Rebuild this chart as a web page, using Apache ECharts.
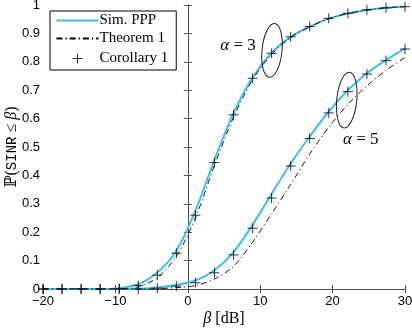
<!DOCTYPE html>
<html>
<head>
<meta charset="utf-8">
<script src="https://cdn.jsdelivr.net/npm/echarts@6/dist/echarts.min.js"></script>
<style>
  html, body { margin: 0; padding: 0; background: #fff; }
  #chart { width: 412px; height: 328px; }
</style>
</head>
<body>
<div id="chart"></div>
<script>
// beta grid [dB]
const beta = [-20, -17.37, -14.74, -12.11, -9.47, -6.84, -4.21, -1.58, 1.05, 3.68,
  6.32, 8.95, 11.58, 14.21, 16.84, 19.47, 22.11, 24.74, 27.37, 30];

// alpha = 3
const simA3 = [0, 0, 0, 0, 0.003, 0.017, 0.058, 0.135, 0.275, 0.455,
  0.62, 0.745, 0.832, 0.888, 0.924, 0.952, 0.97, 0.982, 0.99, 0.994];
const thmA3 = [0, 0, 0, 0, 0, 0.008, 0.04, 0.115, 0.25, 0.435,
  0.605, 0.737, 0.826, 0.886, 0.923, 0.952, 0.97, 0.982, 0.99, 0.994];
const corA3 = [0, 0, 0, 0, 0.001, 0.012, 0.049, 0.126, 0.26, 0.445,
  0.613, 0.742, 0.83, 0.888, 0.924, 0.953, 0.971, 0.983, 0.99, 0.994];

// alpha = 5
const simA5 = [0, 0, 0, 0, 0, 0.001, 0.005, 0.014, 0.03, 0.066,
  0.13, 0.226, 0.335, 0.442, 0.537, 0.625, 0.7, 0.76, 0.806, 0.846];
const thmA5 = [0, 0, 0, 0, 0, 0, 0.001, 0.005, 0.012, 0.035,
  0.08, 0.165, 0.265, 0.368, 0.475, 0.57, 0.65, 0.715, 0.77, 0.815];
const corA5 = [0, 0, 0, 0, 0, 0, 0.003, 0.01, 0.022, 0.057,
  0.12, 0.214, 0.32, 0.433, 0.53, 0.62, 0.695, 0.757, 0.804, 0.845];

const xTicks = [-20, -10, 0, 10, 20, 30];

const pairs = ys => beta.map((b, i) => [b, ys[i]]);

const CYAN = '#3cbff0';
const serif = '"Liberation Serif", "DejaVu Serif", serif';
const sans = '"Liberation Sans", Arial, sans-serif';
const plus = 'path://M5,0L5,10M0,5L10,5';
const plusIcon = 'path://M0,0M42,0M42,14M0,14M16,7L26,7M21,2L21,12';

const chart = echarts.init(document.getElementById('chart'));

const axisLine = { show: true, lineStyle: { color: '#4d4d4d', width: 1 } };
const axisTick = { show: true, inside: true, length: 4, lineStyle: { color: '#4d4d4d' } };

function simLine(name, ys) {
  return {
    name: name, type: 'line', data: pairs(ys), smooth: 0.3, symbol: 'none',
    lineStyle: { color: CYAN, width: 2 }, itemStyle: { color: CYAN }, z: 2
  };
}
function thmLine(name, ys) {
  return {
    name: name, type: 'line', data: pairs(ys), smooth: 0.3, symbol: 'none',
    lineStyle: { color: '#000', width: 0.9, type: [6, 3, 1.2, 3] }, itemStyle: { color: '#000' }, z: 3
  };
}
function corPts(name, ys) {
  return {
    name: name, type: 'scatter', data: pairs(ys), symbol: plus, symbolSize: 10,
    itemStyle: { color: 'none', borderColor: '#000', borderWidth: 1 }, z: 4
  };
}

let option = {
  animation: false,
  backgroundColor: '#fff',
  grid: { left: 43, right: 7, top: 5, bottom: 39, outerBoundsMode: 'none', containLabel: false },
  legend: {
    orient: 'vertical', left: 50, top: 11,
    itemWidth: 42, itemHeight: 14, itemGap: 3,
    padding: [2, 8, 2, 4],
    borderColor: '#000', borderWidth: 1, backgroundColor: '#fff',
    textStyle: { fontFamily: serif, fontSize: 15, color: '#000', padding: [0, 0, 0, -4] },
    data: [
      { name: 'Sim. PPP', itemStyle: { opacity: 0 } },
      { name: 'Theorem 1', itemStyle: { opacity: 0 } },
      { name: 'Corollary 1', icon: plusIcon,
        itemStyle: { color: 'none', borderColor: '#000', borderWidth: 1 } }
    ]
  },
  xAxis: [
    {
      type: 'value', min: -20, max: 30, interval: 10, position: 'bottom',
      axisLine: axisLine, axisTick: axisTick, splitLine: { show: false },
      axisLabel: {
        margin: 6, color: '#000', fontFamily: sans, fontSize: 13,
        formatter: v => (xTicks.indexOf(v) >= 0 ? String(v).replace('-', '\u2212') : '')
      },
      name: '{b|β} [dB]', nameLocation: 'middle', nameGap: 22, nameMoveOverlap: false,
      nameTextStyle: {
        fontFamily: serif, fontSize: 16, color: '#000',
        rich: { b: { fontFamily: serif, fontStyle: 'italic', fontSize: 16, color: '#000' } }
      }
    },
    {
      type: 'value', min: -20, max: 30, interval: 10, position: 'top',
      axisLine: axisLine, axisTick: axisTick, axisLabel: { show: false }, splitLine: { show: false }
    }
  ],
  yAxis: [
    {
      type: 'value', min: 0, max: 1, interval: 0.1, position: 'left',
      axisLine: axisLine, axisTick: axisTick, splitLine: { show: false },
      axisLabel: {
        margin: 3, color: '#000', fontFamily: sans, fontSize: 13,
        formatter: v => (v === 0 ? '0' : v === 1 ? '1' : v.toFixed(1))
      },
      name: '{p|ℙ(}{m|SINR}{p| ≤ }{b|β}{p|)}', nameLocation: 'middle', nameGap: 23,
      nameRotate: 90, nameMoveOverlap: false,
      nameTextStyle: {
        color: '#000',
        rich: {
          p: { fontFamily: serif, fontSize: 16, color: '#000' },
          m: { fontFamily: '"Liberation Mono", "DejaVu Sans Mono", monospace', fontSize: 14, color: '#000' },
          b: { fontFamily: serif, fontStyle: 'italic', fontSize: 16, color: '#000' }
        }
      }
    },
    {
      type: 'value', min: 0, max: 1, interval: 0.1, position: 'right',
      axisLine: axisLine, axisTick: axisTick, axisLabel: { show: false }, splitLine: { show: false }
    }
  ],
  series: [
    simLine('Sim. PPP', simA3),
    simLine('Sim. PPP', simA5),
    thmLine('Theorem 1', thmA3),
    thmLine('Theorem 1', thmA5),
    corPts('Corollary 1', corA3),
    corPts('Corollary 1', corA5)
  ]
};

chart.setOption(option);

// annotations: alpha labels with loops around the curves (data coords)
const px = p => chart.convertToPixel({ xAxisIndex: 0, yAxisIndex: 0 }, p);
const t3 = px([6.93, 0.859]), e3 = px([11.63, 0.84]);
const t5 = px([23.9, 0.525]), e5 = px([21.95, 0.665]);
const labelStyle = (s) => ({
  text: s, fill: '#000', font: '17px ' + serif, align: 'center', verticalAlign: 'middle',
  rich: { a: { fontStyle: 'italic', fontFamily: serif, fontSize: 17, fill: '#000' } }
});
chart.setOption({
  graphic: [
    { type: 'text', x: t3[0], y: t3[1], style: labelStyle('{a|α} = 3'), z: 10 },
    { type: 'ellipse', shape: { cx: e3[0], cy: e3[1], rx: 10, ry: 27 }, rotation: -0.1,
      originX: e3[0], originY: e3[1],
      style: { fill: 'none', stroke: '#222', lineWidth: 1 }, z: 10 },
    { type: 'text', x: t5[0], y: t5[1], style: labelStyle('{a|α} = 5'), z: 10 },
    { type: 'ellipse', shape: { cx: e5[0], cy: e5[1], rx: 10, ry: 28 }, rotation: -0.1,
      originX: e5[0], originY: e5[1],
      style: { fill: 'none', stroke: '#222', lineWidth: 1 }, z: 10 }
  ]
});
</script>
</body>
</html>
